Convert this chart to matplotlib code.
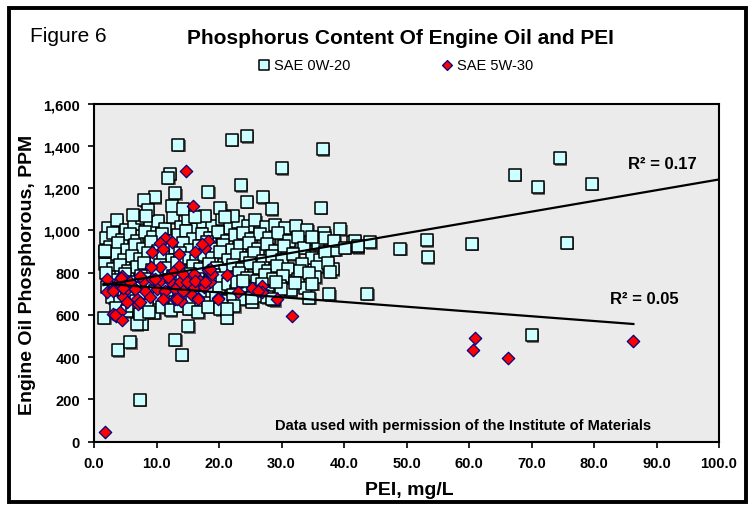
import matplotlib
matplotlib.use("Agg")
import matplotlib.pyplot as plt
from matplotlib.patches import Rectangle
from matplotlib.ticker import StrMethodFormatter, MultipleLocator
from matplotlib.transforms import offset_copy

plt.rcParams['font.family'] = ['Liberation Sans', 'DejaVu Sans']

# SAE 0W-20 points (PEI mg/L, P ppm)
sae0w20_x = [
    2.3, 3.6, 5.1, 6.4, 7.7, 8.9, 10.2, 11.3, 12.6, 13.9, 15.1, 16.4, 17.5, 18.9, 20.4, 21.7, 23.0, 24.6, 25.8, 27.5, 28.9, 30.6, 32.3, 34.1,
    1.9, 3.1, 4.4, 5.7, 6.9, 8.2, 9.5, 10.8, 12.1, 13.4, 14.7, 15.9, 17.3, 18.6, 19.8, 21.2, 22.5, 23.9, 25.1, 26.6, 28.0, 29.5, 31.2, 32.7, 35.3, 36.8,
    2.6, 3.9, 5.3, 6.6, 7.8, 9.1, 10.3, 11.6, 12.9, 14.2, 15.4, 16.8, 18.1, 19.3, 20.7, 22.1, 23.4, 24.8, 26.2, 27.7, 29.0, 30.4, 33.6, 35.8, 38.6,
    2.1, 3.4, 4.8, 6.1, 7.3, 8.6, 9.9, 11.1, 12.4, 13.7, 15.0, 16.3, 17.6, 18.8, 20.1, 21.5, 22.8, 24.3, 25.6, 27.1, 28.4, 30.1, 31.9, 34.8, 36.2,
    1.8, 3.0, 4.2, 5.5, 6.8, 8.0, 9.3, 10.5, 11.9, 13.2, 14.5, 15.8, 17.0, 18.4, 19.6, 21.0, 22.3, 23.7, 25.0, 26.4, 27.9, 29.3, 31.0, 33.2, 35.7, 38.2,
    2.4, 3.7, 5.0, 6.3, 7.5, 8.8, 10.1, 11.4, 12.7, 14.0, 15.3, 16.6, 17.9, 19.2, 20.5, 21.9, 23.2, 24.5, 26.0, 27.3, 28.7, 30.3, 32.6, 35.4,
    2.0, 3.3, 4.6, 5.9, 7.1, 8.4, 9.7, 10.9, 12.2, 13.5, 14.8, 16.1, 17.4, 18.7, 20.0, 21.4, 22.7, 24.0, 25.5, 26.9, 28.2, 29.8, 31.5, 33.8,
    2.9, 4.1, 5.4, 6.7, 7.9, 9.2, 10.4, 11.7, 13.0, 14.3, 15.6, 16.9, 18.2, 19.5, 20.9, 22.2, 23.6, 25.3, 27.0, 28.8,
    3.5, 5.2, 6.0, 7.2, 8.5, 9.6, 10.9, 12.3, 13.8, 15.2, 16.7, 18.3, 20.2, 22.4,
    13.5, 12.1, 11.9, 22.0, 24.4, 36.6, 30.0, 23.5, 18.3, 13.0, 9.7, 8.0, 27.0, 24.4, 12.4, 14.2, 8.6, 20.2, 6.2,
    28.4, 36.3, 17.7, 16.1, 22.2, 21.0, 8.3,
    74.5, 67.3, 71.0, 79.6, 75.6, 60.4, 53.2, 53.4, 49.0, 44.2, 42.2, 41.5, 43.7, 70.0,
    39.4, 34.8, 36.9, 38.4, 41.7, 42.2, 40.1, 37.0, 37.4, 37.8, 32.9, 34.4, 32.1, 34.9, 37.6, 34.4, 29.9, 29.1,
    1.6, 3.8, 5.8, 7.3, 13.0, 14.0, 15.1, 21.2, 7.6, 6.8, 7.3, 8.8, 21.2, 25.2, 27.6, 28.4, 22.8, 23.8, 1.9, 1.8, 1.7,
]
sae0w20_y = [
    1012, 1048, 1003, 1031, 1058, 1021, 1044, 1008, 1062, 1017, 1052, 1006, 1041, 1019, 1055, 1013, 1038, 1021, 1049, 1016, 1027, 1011, 1022, 1003,
    962, 988, 955, 981, 948, 993, 967, 984, 951, 978, 996, 958, 983, 964, 991, 952, 976, 989, 957, 981, 963, 986, 949, 971, 958, 987,
    921, 938, 906, 929, 912, 944, 903, 931, 917, 942, 909, 927, 946, 914, 933, 905, 924, 941, 911, 936, 902, 928, 918, 934, 908,
    872, 889, 858, 881, 866, 894, 853, 877, 862, 891, 871, 855, 884, 867, 896, 859, 882, 869, 893, 857, 878, 862, 887, 871, 858,
    842, 818, 836, 807, 829, 846, 812, 838, 821, 845, 806, 833, 817, 841, 824, 809, 836, 815, 844, 822, 808, 831, 818, 839, 826, 816,
    781, 763, 792, 757, 786, 769, 797, 758, 783, 766, 794, 771, 752, 789, 774, 761, 796, 777, 762, 791, 768, 782, 771, 779,
    733, 716, 742, 709, 728, 746, 713, 736, 704, 731, 748, 719, 738, 707, 729, 744, 712, 735, 721, 747, 706, 738, 718, 729,
    683, 661, 692, 668, 687, 654, 679, 697, 663, 688, 671, 695, 658, 682, 667, 693, 674, 662, 689, 671,
    632, 618, 641, 624, 647, 611, 636, 622, 644, 629, 612, 638, 626, 641,
    1405, 1269, 1250, 1430, 1446, 1384, 1294, 1215, 1184, 1176, 1157, 1144, 1157, 1136, 1114, 1100, 1096, 1106, 1073,
    1100, 1108, 1070, 1062, 1070, 1065, 1070,
    1342, 1264, 1205, 1220, 942, 937, 953, 874, 913, 944, 921, 946, 701, 505,
    1007, 968, 963, 952, 952, 925, 919, 897, 846, 805, 810, 799, 751, 748, 698, 682, 723, 755,
    586, 433, 471, 198, 483, 411, 547, 586, 559, 557, 605, 613, 628, 679, 684, 676, 755, 762, 799, 900, 904,
]

# SAE 5W-30 points
sae5w30_x = [
    15.9, 14.7, 18.2, 17.7, 17.2, 11.3, 12.4, 10.5, 11.1, 9.2, 13.6, 16.2, 13.6, 10.6, 9.1, 12.6, 18.3, 21.2, 23.0,
    4.2, 3.6, 7.9, 9.2, 10.5, 12.2, 13.8, 15.4, 17.0, 18.6,
    2.0, 3.1, 5.2, 6.6, 8.2, 10.0, 11.4, 13.0, 14.3, 16.0, 17.6,
    4.7, 6.8, 9.0, 11.1, 13.0, 15.6, 16.7, 19.9, 7.1, 5.2,
    2.0, 4.5, 5.8, 7.4, 9.8, 11.9, 14.3, 16.0, 18.9,
    3.0, 4.3, 4.6, 6.5, 7.3, 14.8, 16.1, 17.7, 18.5, 19.8, 25.3, 26.8, 26.8, 16.6, 13.9, 13.2,
    3.0, 3.5, 4.2, 4.4, 3.4, 1.7, 29.3, 31.6, 26.2,
    60.9, 60.7, 66.2, 86.2,
]
sae5w30_y = [
    1117, 1280, 952, 916, 936, 963, 944, 939, 912, 900, 890, 897, 833, 826, 826, 802, 812, 789, 707,
    770, 747, 762, 770, 762, 762, 755, 770, 762, 755,
    707, 723, 723, 723, 715, 723, 715, 723, 715, 731, 731,
    684, 676, 684, 676, 676, 692, 679, 679, 652, 660,
    770, 786, 755, 786, 770, 778, 794, 794, 794,
    715, 774, 726, 723, 660, 755, 762, 755, 818, 676, 726, 739, 710, 676, 668, 676,
    605, 597, 613, 578, 601, 45, 676, 597, 715,
    489, 432, 396, 477,
]

# linear trendlines as drawn in the chart (end points)
trend_0w20_x = [1.5, 100.0]
trend_0w20_y = [741, 1241]
trend_5w30_x = [1.5, 86.3]
trend_5w30_y = [748, 557]

fig = plt.figure(figsize=(7.49, 5.06), dpi=100)
W, H = 749, 506
ax = fig.add_axes([94 / W, (H - 442.7) / H, 625 / W, 338.1 / H])
ax.set_facecolor('#ebebeb')

# square shadow, then squares
shadow = offset_copy(ax.transData, fig=fig, x=1.6, y=-1.6, units='dots')
ax.scatter(sae0w20_x, sae0w20_y, marker='s', s=72, c='#707070', linewidths=0,
           transform=shadow, zorder=2, clip_on=False)
sq = ax.scatter(sae0w20_x, sae0w20_y, marker='s', s=68, facecolor='#ccffff',
                edgecolor='black', linewidths=1.1, zorder=3, label='SAE 0W-20')
dm = ax.scatter(sae5w30_x, sae5w30_y, marker='D', s=40, facecolor='#ff0000',
                edgecolor='#000080', linewidths=0.9, zorder=4, label='SAE 5W-30')

ax.plot(trend_0w20_x, trend_0w20_y, color='black', lw=1.6, zorder=5)
ax.plot(trend_5w30_x, trend_5w30_y, color='black', lw=1.6, zorder=5)

ax.set_xlim(0, 100)
ax.set_ylim(0, 1600)
ax.xaxis.set_major_locator(MultipleLocator(10))
ax.yaxis.set_major_locator(MultipleLocator(200))
ax.xaxis.set_major_formatter(StrMethodFormatter('{x:.1f}'))
ax.yaxis.set_major_formatter(StrMethodFormatter('{x:,.0f}'))
ax.tick_params(direction='out', length=4, width=1.2, labelsize=10.5, pad=6)
for lab in ax.get_xticklabels() + ax.get_yticklabels():
    lab.set_fontweight('bold')
for sp in ax.spines.values():
    sp.set_linewidth(1.5)
    sp.set_color('black')

ax.text(0.910, 0.823, 'R² = 0.17', transform=ax.transAxes, ha='center', va='center',
        fontsize=12, fontweight='bold')
ax.text(0.880, 0.424, 'R² = 0.05', transform=ax.transAxes, ha='center', va='center',
        fontsize=12, fontweight='bold')
ax.text(0.590, 0.049, 'Data used with permission of the Institute of Materials',
        transform=ax.transAxes, ha='center', va='center', fontsize=10.5, fontweight='bold')

fig.text(30 / W, 1 - 36 / H, 'Figure 6', fontsize=15, ha='left', va='center')
fig.text(400 / W, 1 - 38 / H, 'Phosphorus Content Of Engine Oil and PEI', fontsize=15,
         fontweight='bold', ha='center', va='center')
fig.text(27.5 / W, 1 - 275 / H, 'Engine Oil Phosphorous, PPM', rotation=90, fontsize=14,
         fontweight='bold', ha='center', va='center')
fig.text(409 / W, 1 - 491 / H, 'PEI, mg/L', fontsize=14, fontweight='bold',
         ha='center', va='center')

fig.legend(handles=[sq, dm], loc='center', bbox_to_anchor=(396 / W, 1 - 66 / H),
           ncol=2, frameon=False, fontsize=10.5, handlelength=0.8, handletextpad=0.3,
           columnspacing=6.2, markerscale=0.8)

# outer frame of the figure
fig.patches.append(Rectangle((9 / W, 3 / H), 737 / W, 494 / H, transform=fig.transFigure,
                             fill=False, edgecolor='black', linewidth=2.8))

fig.savefig('out.png', dpi=100)
